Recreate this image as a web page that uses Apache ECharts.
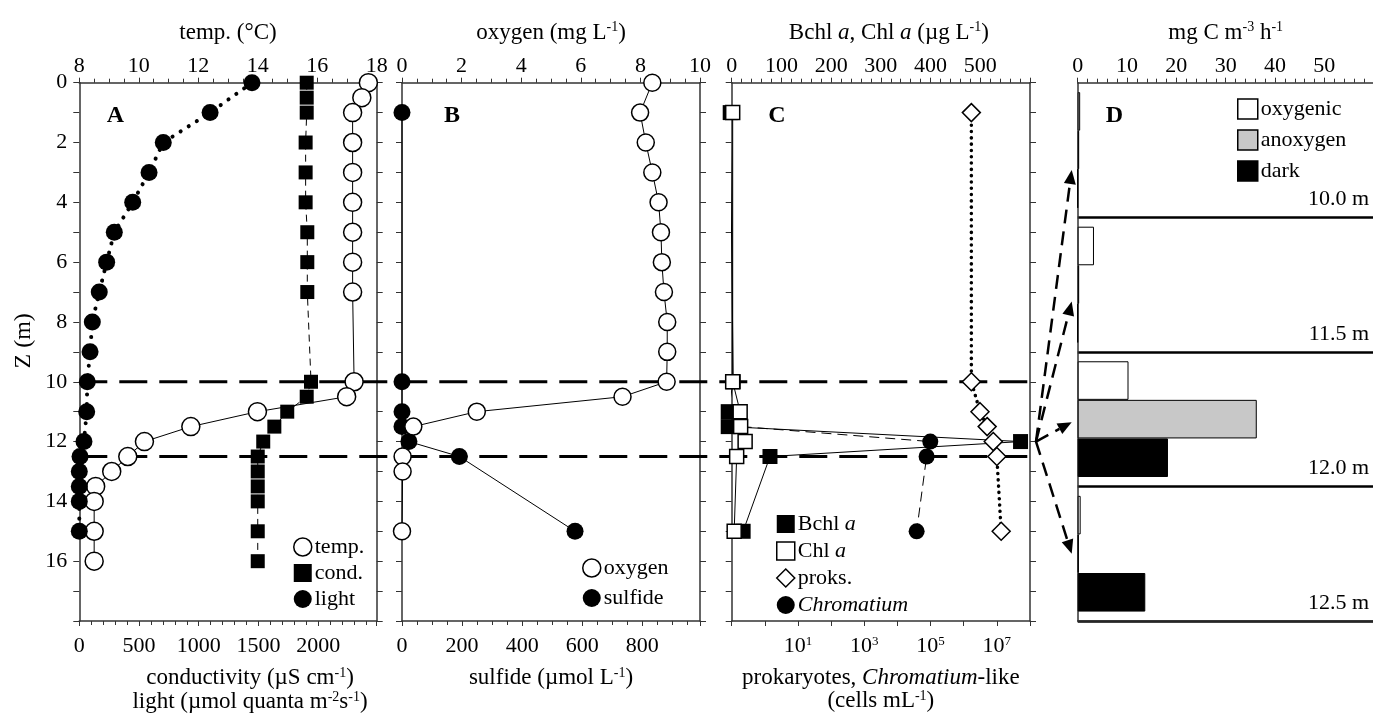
<!DOCTYPE html>
<html>
<head>
<meta charset="utf-8">
<title>Depth profiles</title>
<script src="https://cdn.jsdelivr.net/npm/echarts@6/dist/echarts.min.js"></script>
<style>
    html, body { margin: 0; padding: 0; background: #fff; }
    #main { width: 1373px; height: 717px; }
</style>
</head>
<body>
<div id="main"></div>
<script>
    // ---- panel A : temperature, conductivity, light ----
    var tempDepth = [0, 0.5, 1, 2, 3, 4, 5, 6, 7, 10, 10.5, 11, 11.5, 12, 12.5, 13, 13.5, 14, 15, 16];
    var tempC     = [17.72, 17.5, 17.19, 17.19, 17.19, 17.19, 17.19, 17.19, 17.19, 17.24, 16.99, 13.99, 11.75, 10.19, 9.63, 9.09, 8.55, 8.5, 8.5, 8.5];
    var condDepth = [0, 0.5, 1, 2, 3, 4, 5, 6, 7, 10, 10.5, 11, 11.5, 12, 12.5, 13, 13.5, 14, 15, 16];
    var cond      = [1904, 1904, 1904, 1895, 1895, 1895, 1909, 1909, 1909, 1940, 1904, 1741, 1633, 1540, 1494, 1494, 1494, 1494, 1494, 1494];
    var lightDepth = [0, 1, 2, 3, 4, 5, 6, 7, 8, 9, 10, 11, 12, 12.5, 13, 13.5, 14, 15];
    var light      = [1446, 1095, 703, 584, 447, 293, 229, 167, 109, 90, 67, 62, 39, 6, 0, 0, 0, 0];
    // ---- panel B : oxygen, sulfide ----
    var oxyDepth = [0, 1, 2, 3, 4, 5, 6, 7, 8, 9, 10, 10.5, 11, 11.5, 12.5, 13, 15];
    var oxygen   = [8.40, 7.99, 8.18, 8.40, 8.61, 8.69, 8.72, 8.79, 8.90, 8.90, 8.88, 7.40, 2.51, 0.38, 0.02, 0.02, 0];
    var sulDepth = [1, 10, 11, 11.5, 12, 12.5, 15];
    var sulfide  = [0, 0, 0, 0, 23, 191, 576];
    // ---- panel C : pigments, cell counts ----
    var pigDepth = [1, 10, 11, 11.5, 12, 12.5, 15];
    var bchl     = [-3, 3, -7, -7, 581, 77, 23];
    var chl      = [2, 2, 17, 18, 27, 10, 5];
    var proksDepth = [1, 10, 11, 11.5, 12, 12.5, 15];
    var proks      = [1.7e6, 1.7e6, 3.1e6, 5.1e6, 7.8e6, 1.0e7, 1.35e7];
    var chromDepth = [11.5, 12, 12.5, 15];
    var chromatium = [0.2, 9.8e4, 7.6e4, 3.8e4];
    // ---- panel D : carbon fixation ----
    var rateDepths = ['10.0 m', '11.5 m', '12.0 m', '12.5 m'];
    var oxygenic = [0.5, 3.3, 10.3, 0.6];
    var anoxygen = [0.3, 0.3, 36.3, 0.2];
    var dark     = [0, 0, 18.3, 13.7];
    // redox boundaries (m)
    var refDepths = [10, 12.5];

    var FONT = '"Liberation Serif", "DejaVu Serif", serif';
    var AXC = '#333';

    function pairs(vals, depths) {
        return vals.map(function (v, i) { return [v, depths[i]]; });
    }

    // superscripts: small token padded below so it rides at the top of the line
    var richName = {
        n: {fontFamily: FONT, fontSize: 23, color: '#000', align: 'center'},
        i: {fontFamily: FONT, fontSize: 23, color: '#000', align: 'center', fontStyle: 'italic'},
        sup: {fontFamily: FONT, fontSize: 14, color: '#000', align: 'center', padding: [0, 0, 10, 0]}
    };
    var richTick = {
        b: {fontFamily: FONT, fontSize: 22, color: '#000'},
        s: {fontFamily: FONT, fontSize: 13, color: '#000', padding: [0, 0, 10, 0]}
    };

    function xAx(o) {
        return {
            type: o.type || 'value', gridIndex: o.grid, position: o.pos,
            min: o.min, max: o.max, interval: o.interval, logBase: o.logBase,
            name: o.name || '', nameLocation: 'middle', nameGap: o.nameGap,
            nameTextStyle: {fontFamily: FONT, fontSize: 23, color: '#000', rich: richName, padding: o.namePad || 0},
            axisLine: {show: true, onZero: false, lineStyle: {color: AXC, width: 1.5}},
            axisTick: {show: o.ticks !== false, length: 5, lineStyle: {color: AXC, width: 1}},
            minorTick: {show: !!o.minor, splitNumber: o.minor || 5, length: 4, lineStyle: {color: AXC, width: 1}},
            axisLabel: {show: !!o.fmt, margin: o.pos === 'top' ? 5 : 14, fontFamily: FONT, fontSize: 22,
                color: '#000', formatter: o.fmt, rich: richTick},
            splitLine: {show: false}, minorSplitLine: {show: false}
        };
    }

    function yAx(grid, pos, labels) {
        return {
            type: 'value', gridIndex: grid, position: pos, inverse: true,
            min: 0, max: 18, interval: 1,
            name: labels ? 'Z (m)' : '', nameLocation: 'middle', nameGap: 44,
            nameTextStyle: {fontFamily: FONT, fontSize: 24, color: '#000', padding: [0, 0, 0, 22]},
            axisLine: {show: true, onZero: false, lineStyle: {color: AXC, width: 1.5}},
            axisTick: {show: true, length: 6, lineStyle: {color: AXC, width: 1}},
            axisLabel: {show: labels, margin: 12, fontFamily: FONT, fontSize: 22, color: '#000',
                formatter: function (v) { return (v % 2 === 0 && v < 18) ? String(v) : ''; }},
            splitLine: {show: false}
        };
    }

    function every(step, top) {
        return function (v) { return (Math.abs(v % step) < 1e-9 && v <= top) ? String(v) : ''; };
    }

    var openSym = {color: '#fff', borderColor: '#000', borderWidth: 1.5};
    var fillSym = {color: '#000', borderColor: '#000', borderWidth: 0};

    function lineSeries(name, xi, yi, data, symbol, size, item, lineStyle) {
        return {
            name: name, type: 'line', xAxisIndex: xi, yAxisIndex: yi, data: data,
            symbol: symbol, symbolSize: size, showAllSymbol: true, clip: false,
            itemStyle: item, lineStyle: lineStyle, emphasis: {disabled: true}
        };
    }

    var chromData = pairs(chromatium, chromDepth).map(function (p) {
        // point below the log axis range is only the start of the line
        return p[0] < 1 ? {value: p, symbol: 'none'} : p;
    });

    var GT = 82.7, GH = 538.3;

    var option = {
        animation: false,
        backgroundColor: '#fff',
        textStyle: {fontFamily: FONT, color: '#000'},
        grid: [
            {left: 79.3, top: GT, width: 297.4, height: GH, outerBoundsMode: 'none'},
            {left: 402, top: GT, width: 298, height: GH, outerBoundsMode: 'none'},
            {left: 731.7, top: GT, width: 298.3, height: GH, outerBoundsMode: 'none'},
            {left: 1077.7, top: GT, width: 296, height: GH, outerBoundsMode: 'none'}
        ],
        xAxis: [
            xAx({grid: 0, pos: 'top', min: 8, max: 18, interval: 2, minor: 4, fmt: every(2, 18),
                name: 'temp. (\u00B0C)', nameGap: 38}),
            xAx({grid: 0, pos: 'bottom', min: 0, max: 2490, interval: 500, minor: 5, fmt: every(500, 2000),
                name: '{n|conductivity (\u00B5S cm}{sup|-1}{n|)}\n{n|light (\u00B5mol quanta m}{sup|-2}{n|s}{sup|-1}{n|)}',
                nameGap: 45, namePad: [0, 0, 0, 44]}),
            xAx({grid: 1, pos: 'top', min: 0, max: 10, interval: 2, minor: 4, fmt: every(2, 10),
                name: '{n|oxygen (mg L}{sup|-1}{n|)}', nameGap: 38}),
            xAx({grid: 1, pos: 'bottom', min: 0, max: 992, interval: 200, minor: 4, fmt: every(200, 800),
                name: '{n|sulfide (\u00B5mol L}{sup|-1}{n|)}', nameGap: 45}),
            xAx({grid: 2, pos: 'top', min: 0, max: 600, interval: 100, minor: 5, fmt: every(100, 500),
                name: '{n|Bchl }{i|a}{n|, Chl }{i|a}{n| (\u00B5g L}{sup|-1}{n|)}', nameGap: 38, namePad: [0, 0, 0, 16]}),
            xAx({grid: 2, pos: 'bottom', type: 'log', logBase: 10, min: 0.1, max: 1e8,
                fmt: function (v) {
                    var e = Math.round(Math.log(v) / Math.LN10);
                    return (e % 2 !== 0 && e > 0 && e < 8) ? '{b|10}{s|' + e + '}' : '';
                },
                name: '{n|prokaryotes, }{i|Chromatium}{n|-like}\n{n|(cells mL}{sup|-1}{n|)}', nameGap: 45}),
            xAx({grid: 3, pos: 'top', min: 0, max: 60, interval: 10, minor: 5, fmt: every(10, 50),
                name: '{n|mg C m}{sup|-3}{n| h}{sup|-1}', nameGap: 38}),
            xAx({grid: 3, pos: 'bottom', min: 0, max: 60, interval: 10, ticks: false})
        ],
        yAxis: [
            yAx(0, 'left', true), yAx(0, 'right', false),
            yAx(1, 'left', false), yAx(1, 'right', false),
            yAx(2, 'left', false), yAx(2, 'right', false),
            {
                type: 'category', gridIndex: 3, position: 'left', inverse: true, data: rateDepths,
                axisLine: {show: true, onZero: false, lineStyle: {color: AXC, width: 1.5}},
                axisTick: {show: false}, axisLabel: {show: false},
                splitLine: {show: true, interval: function (i) { return i > 0 && i < 4; },
                    lineStyle: {color: '#000', width: 2.5}}
            }
        ],
        legend: [
            {data: [{name: 'temp.', icon: 'circle', itemStyle: openSym},
                    {name: 'cond.', icon: 'rect', itemStyle: fillSym},
                    {name: 'light', icon: 'circle', itemStyle: fillSym}],
             left: 293, top: 536, itemGap: 4},
            {data: [{name: 'oxygen', icon: 'circle', itemStyle: openSym},
                    {name: 'sulfide', icon: 'circle', itemStyle: fillSym}],
             left: 582, top: 557, itemGap: 8},
            {data: [{name: 'Bchl a', icon: 'rect', itemStyle: fillSym},
                    {name: 'Chl a', icon: 'rect', itemStyle: openSym},
                    {name: 'proks.', icon: 'diamond', itemStyle: openSym},
                    {name: 'Chromatium', icon: 'circle', itemStyle: fillSym}],
             left: 776, top: 513, itemGap: 5},
            {data: [{name: 'oxygenic', icon: 'rect', itemStyle: {color: '#fff', borderColor: '#000', borderWidth: 1.5}},
                    {name: 'anoxygen', icon: 'rect', itemStyle: {color: '#c8c8c8', borderColor: '#000', borderWidth: 1.5}},
                    {name: 'dark', icon: 'rect', itemStyle: {color: '#000', borderColor: '#000', borderWidth: 1.5}}],
             left: 1237, top: 98, itemGap: 9, itemWidth: 20, itemHeight: 20}
        ].map(function (l) {
            return Object.assign({
                orient: 'vertical', padding: 0, selectedMode: false,
                itemWidth: 18, itemHeight: 18,
                textStyle: {fontFamily: FONT, fontSize: 22, color: '#000', padding: [0, 0, 0, -2],
                    rich: {i: {fontFamily: FONT, fontSize: 22, color: '#000', fontStyle: 'italic'}}},
                formatter: function (name) {
                    if (name === 'Bchl a') return 'Bchl {i|a}';
                    if (name === 'Chl a') return 'Chl {i|a}';
                    if (name === 'Chromatium') return '{i|Chromatium}';
                    return name;
                }
            }, l);
        }),
        series: [
            lineSeries('temp.', 0, 0, pairs(tempC, tempDepth), 'circle', 18, openSym,
                {color: '#000', width: 1}),
            lineSeries('cond.', 1, 0, pairs(cond, condDepth), 'rect', 14, fillSym,
                {color: '#000', width: 1, type: [7, 5]}),
            lineSeries('light', 1, 0, pairs(light, lightDepth), 'circle', 17, fillSym,
                {color: '#000', width: 4, type: [0.1, 9.5], cap: 'round'}),

            lineSeries('sulfide', 3, 2, pairs(sulfide, sulDepth), 'circle', 17, fillSym,
                {color: '#000', width: 1}),
            lineSeries('oxygen', 2, 2, pairs(oxygen, oxyDepth), 'circle', 17, openSym,
                {color: '#000', width: 1}),

            lineSeries('Chromatium', 5, 4, chromData, 'circle', 16, fillSym,
                {color: '#000', width: 1, type: [10, 6]}),
            lineSeries('Bchl a', 4, 4, pairs(bchl, pigDepth), 'rect', 15, fillSym,
                {color: '#000', width: 1}),
            lineSeries('Chl a', 4, 4, pairs(chl, pigDepth), 'rect', 14, openSym,
                {color: '#000', width: 1}),
            lineSeries('proks.', 5, 4, pairs(proks, proksDepth), 'diamond', 18, openSym,
                {color: '#000', width: 3.5, type: [0.1, 6.2], cap: 'round'}),

            {name: 'oxygenic', type: 'bar', xAxisIndex: 6, yAxisIndex: 6, data: oxygenic,
             barGap: '0%', barCategoryGap: '14%',
             itemStyle: {color: '#fff', borderColor: '#000', borderWidth: 1}},
            {name: 'anoxygen', type: 'bar', xAxisIndex: 6, yAxisIndex: 6, data: anoxygen,
             itemStyle: {color: '#c8c8c8', borderColor: '#000', borderWidth: 1}},
            {name: 'dark', type: 'bar', xAxisIndex: 6, yAxisIndex: 6, data: dark,
             itemStyle: {color: '#000', borderColor: '#000', borderWidth: 1}}
        ]
    };

    var chart = echarts.init(document.getElementById('main'));
    chart.setOption(option);

    // annotations placed through the axes
    function px(xi, yi, pt) {
        return chart.convertToPixel({xAxisIndex: xi, yAxisIndex: yi}, pt);
    }

    var g = [];
    refDepths.forEach(function (z) {
        var a = px(0, 0, [8, z]), b = px(4, 4, [600, z]);
        g.push({type: 'line', z: 1, shape: {x1: a[0], y1: a[1], x2: b[0], y2: b[1]},
            style: {stroke: '#000', lineWidth: 3, lineDash: [28, 12]}});
    });

    var letters = [['A', 115.5], ['B', 452], ['C', 777], ['D', 1114.5]];
    letters.forEach(function (l) {
        g.push({type: 'text', x: l[1], y: 116, z: 10,
            style: {text: l[0], font: 'bold 24px ' + FONT, fill: '#000', align: 'center', verticalAlign: 'middle'}});
    });

    // section labels and arrows for panel D
    var dLeft = px(6, 6, [0, 0])[0];
    var band = GH / rateDepths.length;
    var start = px(4, 4, [600, 12]);
    var sx = start[0] + 6, sy = start[1];
    var arrowShift = [20, 17, 3, 0];
    rateDepths.forEach(function (d, i) {
        var c = px(6, 6, [0, i]);
        g.push({type: 'text', x: 1369, y: c[1] + band / 2 - 18, z: 10,
            style: {text: d, font: '22px ' + FONT, fill: '#000', align: 'right', verticalAlign: 'middle'}});
        var ex = dLeft - 6, ey = c[1] + arrowShift[i];
        var dx = ex - sx, dy = ey - sy, len = Math.sqrt(dx * dx + dy * dy);
        var ux = dx / len, uy = dy / len;
        var bx = ex - ux * 14, by = ey - uy * 14;
        g.push({type: 'line', z: 5, shape: {x1: sx, y1: sy, x2: bx, y2: by},
            style: {stroke: '#000', lineWidth: 2.5, lineDash: [14, 8]}});
        g.push({type: 'polygon', z: 5, shape: {points: [[ex, ey],
                [bx - uy * 6, by + ux * 6], [bx + uy * 6, by - ux * 6]]},
            style: {fill: '#000'}});
    });

    chart.setOption({graphic: g});
</script>
</body>
</html>
